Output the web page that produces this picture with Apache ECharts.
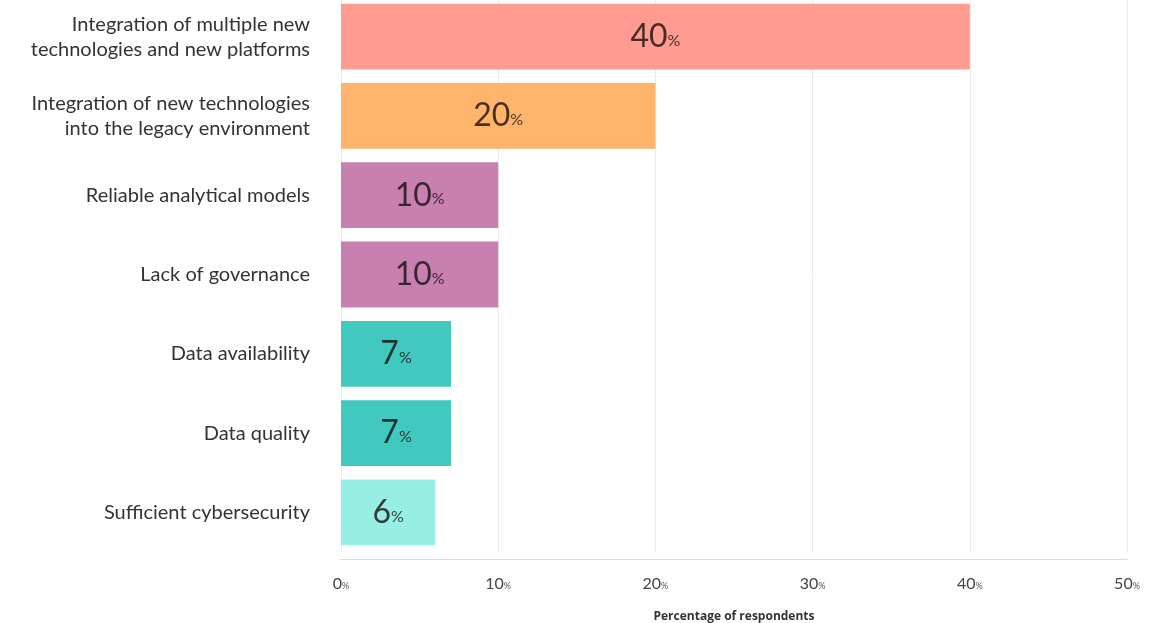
<!DOCTYPE html>
<html>
<head>
<meta charset="utf-8">
<script src="https://cdn.jsdelivr.net/npm/echarts@6/dist/echarts.min.js"></script>
<style>
html,body{margin:0;padding:0;background:#fff;overflow:hidden;}
#wrap{position:relative;width:1166px;height:623px;overflow:hidden;}
#chart{position:absolute;left:0;top:-3px;width:1166px;height:626px;}
</style>
</head>
<body>
<div id="wrap"><div id="chart"></div></div>
<script>
const categories = [
  "Integration of multiple new\ntechnologies and new platforms",
  "Integration of new technologies\ninto the legacy environment",
  "Reliable analytical models",
  "Lack of governance",
  "Data availability",
  "Data quality",
  "Sufficient cybersecurity"
];
const values = [40, 20, 10, 10, 7, 7, 6];
const barColors = ["#FF9B91", "#FFB46B", "#C780B0", "#C780B0", "#42C9BF", "#42C9BF", "#97EEE4"];
const xTickValues = [0, 10, 20, 30, 40, 50];
const axisName = "Percentage of respondents";

const chart = echarts.init(document.getElementById('chart'));
chart.setOption({
  animation: false,
  grid: { left: 341, right: 39, top: 0, bottom: 71, containLabel: false, outerBoundsMode: 'none' },
  xAxis: {
    type: 'value',
    min: xTickValues[0],
    max: xTickValues[xTickValues.length - 1],
    interval: 10,
    offset: 7,
    axisLine: { show: true, lineStyle: { color: '#d9d9d9', width: 1 } },
    axisTick: { show: false },
    splitLine: { show: true, lineStyle: { color: '#ececec', width: 1 } },
    axisLabel: {
      margin: 17,
      formatter: v => '{n|' + v + '}{p|%}',
      rich: {
        n: { fontFamily: 'Lato', fontSize: 16, color: '#444' },
        p: { fontFamily: 'Lato', fontSize: 9, color: '#555', padding: [4, 0, 0, 0] }
      }
    },
    name: axisName,
    nameLocation: 'middle',
    nameGap: 52,
    nameTextStyle: { fontFamily: 'Open Sans', fontSize: 12, fontWeight: 'bold', color: '#333' }
  },
  yAxis: {
    type: 'category',
    inverse: true,
    data: categories,
    axisLine: { show: false },
    axisTick: { show: false },
    axisLabel: {
      margin: 31,
      fontFamily: 'Lato',
      fontSize: 20,
      lineHeight: 25,
      color: '#333',
      align: 'right'
    }
  },
  series: [{
    type: 'bar',
    barCategoryGap: '17%',
    data: values.map((v, i) => ({ value: v, itemStyle: { color: barColors[i] } })),
    label: {
      show: true,
      position: 'inside',
      formatter: p => '{n|' + p.value + '}{p|%}',
      rich: {
        n: { fontFamily: 'Lato', fontSize: 32, color: 'rgba(20,10,10,0.78)' },
        p: { fontFamily: 'Lato', fontSize: 16, color: 'rgba(20,10,10,0.78)', padding: [8, 0, 0, 0] }
      }
    }
  }]
});
</script>
</body>
</html>
